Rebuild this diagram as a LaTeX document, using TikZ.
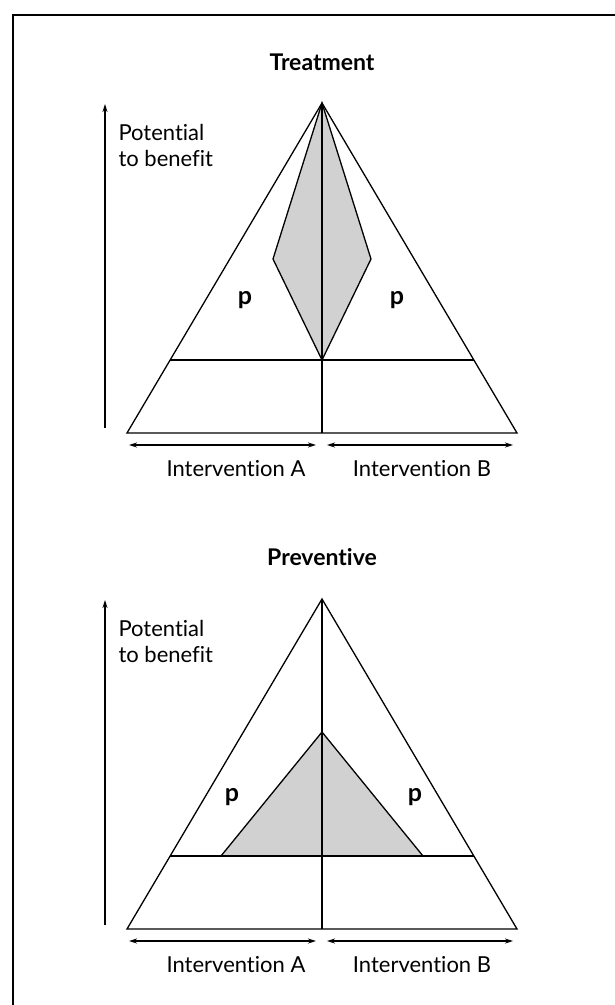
\documentclass[tikz,border=0pt]{standalone}
\usepackage{fontspec}
\setmainfont{Lato}[Ligatures={NoCommon,NoDiscretionary}]
\usetikzlibrary{arrows.meta}

\begin{document}
\begin{tikzpicture}[x=1pt,y=-1pt,>={Stealth[length=8pt,width=5pt]},
 every node/.style={font=\fontsize{22}{26}\selectfont},
 edge/.style={line width=1.3pt},greyfill/.style={fill=black!18,draw,line width=1.3pt},
 span/.style={line width=1.3pt,<->},title/.style={font=\fontsize{23}{26}\selectfont\bfseries},
 plabel/.style={font=\fontsize{25}{26}\selectfont\bfseries}]
\useasboundingbox (0,0) rectangle (615,1005);
\draw[line width=2pt] (13,1005) -- (13,15) -- (615,15);
% treatment
\node[title](ttl1) at (322,62){Treatment};
\coordinate (t-top) at (322,103);
\coordinate (t-bl) at (127,433);\coordinate (t-br) at (517,433);\coordinate (t-bm) at (322,433);
\coordinate (t-ml) at (170,360);\coordinate (t-mr) at (474,360);\coordinate (t-mm) at (322,360);
\coordinate (t-dl) at (273,259);\coordinate (t-dr) at (371,259);
\draw[greyfill](t-top)--(t-dl)--(t-mm)--(t-dr)--cycle;
\draw[edge](t-top)--(t-bl)--(t-br)--cycle;
\draw[edge](t-top)--(t-bm);\draw[edge](t-ml)--(t-mr);
\node[plabel](p1) at (245,300){p};\node[plabel](p2) at (397,300){p};
\coordinate (a1) at (129,445);\coordinate (a2) at (316,445);
\coordinate (a3) at (327,445);\coordinate (a4) at (513,445);
\draw[span](a1)--(a2);\draw[span](a3)--(a4);
\node(ia1) at (236,469){Intervention A};\node(ib1) at (422,469){Intervention B};
\coordinate (v1a) at (105,428);\coordinate (v1b) at (105,104);
\draw[edge,->](v1a)--(v1b);
\node[anchor=west,align=left](pb1) at (115,145){Potential\\to benefit};
% preventive
\node[title](ttl2) at (322,557){Preventive};
\coordinate (b-top) at (322,599);
\coordinate (b-bl) at (127,929);\coordinate (b-br) at (517,929);\coordinate (b-bm) at (322,929);
\coordinate (b-ml) at (170,856);\coordinate (b-mr) at (474,856);
\coordinate (b-st) at (322,732);\coordinate (b-sl) at (221,856);\coordinate (b-sr) at (423,856);
\draw[greyfill](b-st)--(b-sl)--(b-sr)--cycle;
\draw[edge](b-top)--(b-bl)--(b-br)--cycle;
\draw[edge](b-top)--(b-bm);\draw[edge](b-ml)--(b-mr);
\node[plabel](p3) at (232,797){p};\node[plabel](p4) at (415,797){p};
\coordinate (a5) at (129,941);\coordinate (a6) at (316,941);
\coordinate (a7) at (327,941);\coordinate (a8) at (513,941);
\draw[span](a5)--(a6);\draw[span](a7)--(a8);
\node(ia2) at (236,965){Intervention A};\node(ib2) at (422,965){Intervention B};
\coordinate (v2a) at (105,925);\coordinate (v2b) at (105,600);
\draw[edge,->](v2a)--(v2b);
\node[anchor=west,align=left](pb2) at (115,641){Potential\\to benefit};
\end{tikzpicture}
\end{document}
